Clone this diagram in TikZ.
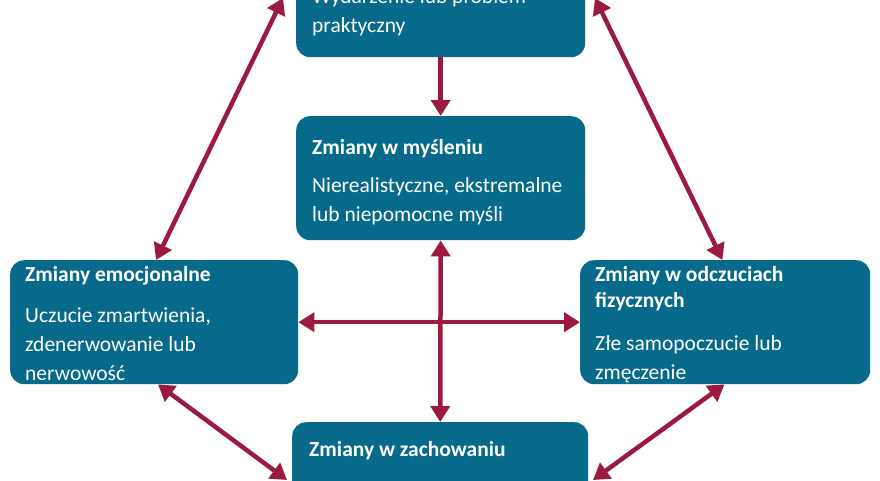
\documentclass[tikz,border=0pt]{standalone}
\usepackage{fontspec}
\setmainfont{Carlito}
\usetikzlibrary{arrows.meta, positioning}
\definecolor{boxteal}{HTML}{086A8A}
\definecolor{arrred}{HTML}{9B1B40}
\tikzset{
  box/.style={fill=boxteal, rounded corners=14pt, anchor=north west, inner sep=0pt},
  txt/.style={anchor=north west, align=left, text=white, font=\fontsize{21.5}{29}\selectfont, inner sep=0pt},
  link/.style={draw=arrred, line width=4.5pt, -{Triangle[length=16pt,width=19pt]}},
  both/.style={link, {Triangle[length=16pt,width=19pt]}-{Triangle[length=16pt,width=19pt]}},
}
\begin{document}
\begin{tikzpicture}[x=1pt,y=-1pt]
	\useasboundingbox (0,0) rectangle (880,480);
	\clip (0,0) rectangle (880,480);
	% pola
	\node[box, minimum width=289pt, minimum height=120pt] (event) at (296,-63) {};
	\node[box, minimum width=289pt, minimum height=124pt] (think) at (296,116) {};
	\node[box, minimum width=288pt, minimum height=124pt] (emo) at (10,260) {};
	\node[box, minimum width=290pt, minimum height=124pt] (phys) at (580,260) {};
	\node[box, minimum width=296pt, minimum height=124pt] (act) at (292,422) {};
	% teksty
	\node[txt] at (312,-12) {Wydarzenie lub problem\\praktyczny};
	\node[txt] at (312,139) {\textbf{Zmiany w myśleniu}\\[9pt]Nierealistyczne, ekstremalne\\lub niepomocne myśli};
	\node[txt] at (25,266) {\textbf{Zmiany emocjonalne}\\[12pt]Uczucie zmartwienia,\\zdenerwowanie lub\\nerwowość};
	\node[txt] at (595,266) {\textbf{Zmiany w odczuciach}\\[-3pt]\textbf{fizycznych}\\[14pt]Złe samopoczucie lub\\zmęczenie};
	\node[txt] at (309,441) {\textbf{Zmiany w zachowaniu}};
	% strzałki
	\coordinate (evL) at (283,-2);
	\coordinate (evR) at (595,-2);
	\coordinate (actL) at (287,480);
	\coordinate (actR) at (593,480);
	\draw[link] (event.south) -- (think.north);
	\draw[both] (evL) -- ([xshift=146pt]emo.north west);
	\draw[both] (evR) -- ([xshift=-148pt]phys.north east);
	\draw[both] ([xshift=148pt]emo.south west) -- (actL);
	\draw[both] ([xshift=-146pt]phys.south east) -- (actR);
	\draw[both] (emo.east) -- (phys.west);
	\draw[both] (think.south) -- (act.north);
\end{tikzpicture}
\end{document}
